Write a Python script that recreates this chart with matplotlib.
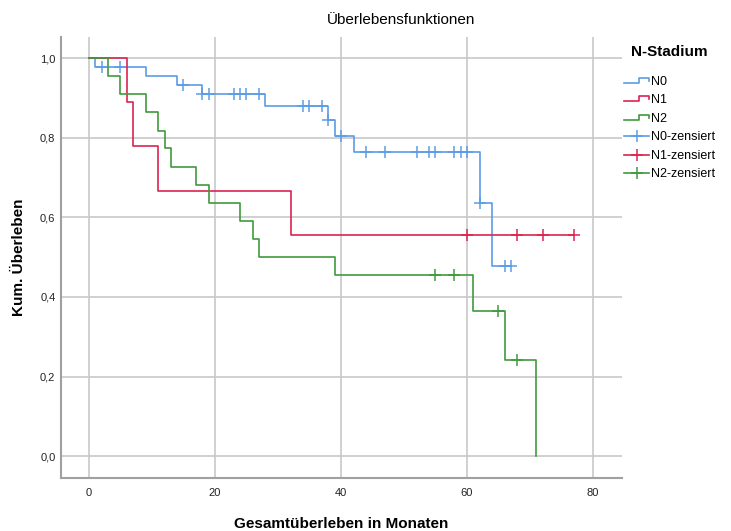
import numpy as np
import matplotlib
matplotlib.use("Agg")
import matplotlib.pyplot as plt
from matplotlib.lines import Line2D
from matplotlib.legend_handler import HandlerBase

plt.rcParams['font.family'] = ['Liberation Sans', 'DejaVu Sans']

# Kaplan-Meier steps (months, cumulative survival)
n0_times = [0, 1, 9, 14, 18, 28, 38, 39, 42, 62, 64]
n0_surv = [1.0, 0.977, 0.955, 0.932, 0.909, 0.879, 0.844, 0.805, 0.764, 0.636, 0.477]
n0_end = 67
n0_cens = [2, 5, 15, 18, 19, 23, 24, 25, 27, 34, 35, 37, 38, 40, 44, 47, 52, 54, 55,
           58, 59, 60, 62, 66, 67]

n1_times = [0, 6, 7, 11, 32]
n1_surv = [1.0, 0.889, 0.778, 0.667, 0.556]
n1_end = 77
n1_cens = [60, 68, 72, 77]

n2_times = [0, 3, 5, 9, 11, 12, 13, 17, 19, 24, 26, 27, 39, 61, 66, 71]
n2_surv = [1.0, 0.955, 0.909, 0.864, 0.818, 0.773, 0.727, 0.682, 0.636, 0.591,
           0.545, 0.5, 0.455, 0.364, 0.242, 0.0]
n2_end = 71
n2_cens = [55, 58, 65, 68]

groups = ['N0', 'N1', 'N2']
colors = ['#5c9ce6', '#dc2452', '#3f9a3d']

x_ticks = [0, 20, 40, 60, 80]
y_ticks = [0.0, 0.2, 0.4, 0.6, 0.8, 1.0]


class StepHandler(HandlerBase):
    def create_artists(self, legend, orig_handle, xdescent, ydescent, width, height,
                       fontsize, trans):
        lo = -ydescent + height * 0.25
        hi = -ydescent + height * 0.8
        xs = [-xdescent, -xdescent + 0.58 * width, -xdescent + 0.58 * width,
              -xdescent + width, -xdescent + width]
        ys = [lo, lo, hi, hi, hi - 0.3 * height]
        line = Line2D(xs, ys, color=orig_handle.get_color(), lw=1.2)
        line.set_transform(trans)
        return [line]


fig = plt.figure(figsize=(7.31, 5.31), dpi=100)
ax = fig.add_axes([0.0834, 0.0998, 0.7674, 0.8305])

data = [(n0_times, n0_surv, n0_end, n0_cens),
        (n1_times, n1_surv, n1_end, n1_cens),
        (n2_times, n2_surv, n2_end, n2_cens)]

step_handles = []
cens_handles = []
for (t, s, end, cens), name, col in zip(data, groups, colors):
    xs = list(t) + [end]
    ys = list(s) + [s[-1]]
    h, = ax.step(xs, ys, where='post', color=col, lw=1.2, zorder=3)
    idx = np.searchsorted(t, cens, side='right') - 1
    ax.plot(cens, np.array(s)[idx], linestyle='none', marker='+', ms=8, mew=1.1,
            color=col, zorder=4)
    step_handles.append(h)
    cens_handles.append(Line2D([], [], color=col, lw=1.2, marker='+', ms=9, mew=1.1))

ax.set_xlim(-4.45, 84.6)
ax.set_ylim(-0.055, 1.053)
ax.set_xticks(x_ticks)
ax.set_yticks(y_ticks)
ax.set_yticklabels([f"{v:.1f}".replace('.', ',') for v in y_ticks])
ax.tick_params(length=0, labelsize=8, colors='#222222', pad=4)
ax.tick_params(axis='x', pad=7)
ax.grid(True, color='#c8c8c8', lw=1.2)
ax.set_axisbelow(True)
for side in ['top', 'right']:
    ax.spines[side].set_visible(False)
for side in ['left', 'bottom']:
    ax.spines[side].set_color('#a0a0a0')
    ax.spines[side].set_linewidth(1.5)

ax.set_xlabel('Gesamtüberleben in Monaten', fontsize=11, fontweight='bold', labelpad=14)
ax.set_ylabel('Kum. Überleben', fontsize=11, fontweight='bold', labelpad=10)
fig.text(0.549, 0.962, 'Überlebensfunktionen', fontsize=11, ha='center', va='center')

# legend title drawn separately so the gap to the entries matches
fig.text(631 / 731, 1 - 52 / 531, 'N-Stadium', fontsize=11, fontweight='bold',
         ha='left', va='center')

handler = StepHandler()
leg = fig.legend(step_handles + cens_handles,
                 [g for g in groups] + [g + '-zensiert' for g in groups],
                 handler_map={h: handler for h in step_handles},
                 loc='upper left', bbox_to_anchor=(624 / 731, 1 - 76 / 531),
                 frameon=False, fontsize=9, borderpad=0,
                 handlelength=2.0, handletextpad=0.2, labelspacing=0.52,
                 numpoints=1, borderaxespad=0)

fig.savefig('out.png', dpi=100)
